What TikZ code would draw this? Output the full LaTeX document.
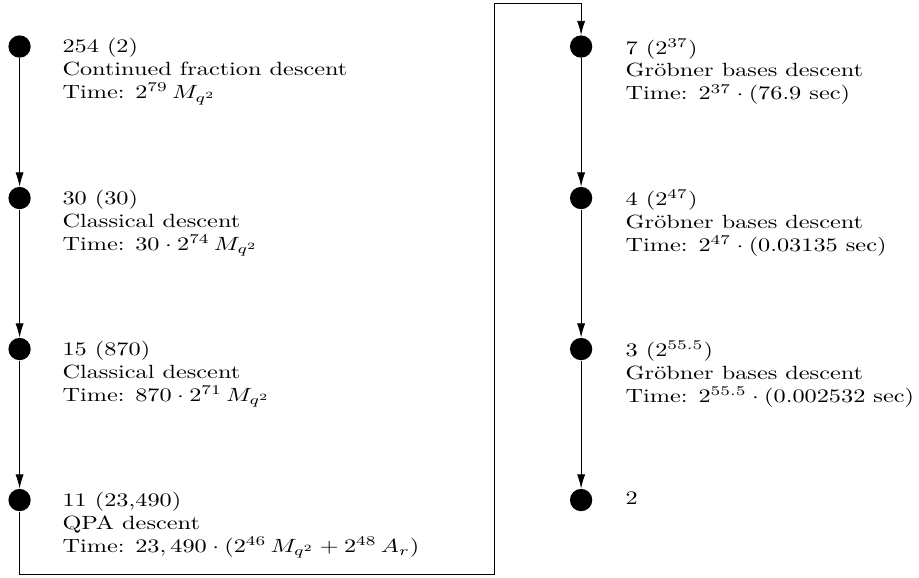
\documentclass[tikz,border=0pt]{standalone}
\usepackage{tikz}
\usetikzlibrary{arrows.meta,positioning}

\begin{document}
\begin{tikzpicture}[
  dotNode/.style={circle, fill=black, inner sep=0pt, minimum size=0.41cm},
  stepText/.style={anchor=north west, align=left, inner sep=0pt,
    xscale=1.27, transform shape},
  arr/.style={-{Latex[length=2.6mm,width=1.5mm]}, line width=0.45pt}
]
\useasboundingbox (0,0) rectangle (16.89,-10.61);

% Colonna sinistra
\node[dotNode] (d254) at (0.36,-0.855) {};
\node[dotNode] (d30)  at (0.36,-3.64) {};
\node[dotNode] (d15)  at (0.36,-6.415) {};
\node[dotNode] (d11)  at (0.36,-9.19) {};

\node[stepText] (t254) at (1.14,-0.70) {254 (2)\\Continued fraction descent\\Time: $2^{79}\,M_{q^2}$};
\node[stepText] (t30)  at (1.14,-3.485) {30 (30)\\Classical descent\\Time: $30\cdot 2^{74}\,M_{q^2}$};
\node[stepText] (t15)  at (1.14,-6.26) {15 (870)\\Classical descent\\Time: $870\cdot 2^{71}\,M_{q^2}$};
\node[stepText] (t11)  at (1.14,-9.035) {11 (23,490)\\QPA descent\\Time: $23,490\cdot(2^{46}\,M_{q^2}+2^{48}\,A_r)$};

% Colonna destra
\node[dotNode] (d7) at (10.68,-0.855) {};
\node[dotNode] (d4) at (10.68,-3.64) {};
\node[dotNode] (d3) at (10.68,-6.415) {};
\node[dotNode] (d2) at (10.68,-9.19) {};

\node[stepText] (t7) at (11.49,-0.70) {7 ($2^{37}$)\\Gr\"obner bases descent\\Time: $2^{37}\cdot(76.9\ \mathrm{sec})$};
\node[stepText] (t4) at (11.49,-3.485) {4 ($2^{47}$)\\Gr\"obner bases descent\\Time: $2^{47}\cdot(0.03135\ \mathrm{sec})$};
\node[stepText] (t3) at (11.49,-6.26) {3 ($2^{55.5}$)\\Gr\"obner bases descent\\Time: $2^{55.5}\cdot(0.002532\ \mathrm{sec})$};
\node[stepText, anchor=base west] (t2) at (11.49,-9.28) {2};

% Frecce
\draw[arr] (d254) -- (d30);
\draw[arr] (d30) -- (d15);
\draw[arr] (d15) -- (d11);
\draw[arr] (d7) -- (d4);
\draw[arr] (d4) -- (d3);
\draw[arr] (d3) -- (d2);

% Collegamento tra le colonne
\coordinate (turnA) at (9.08,-10.55);
\coordinate (turnB) at (9.08,-0.065);
\draw[arr] (d11) |- (turnA) -- (turnB) -| (d7);

\end{tikzpicture}
\end{document}
